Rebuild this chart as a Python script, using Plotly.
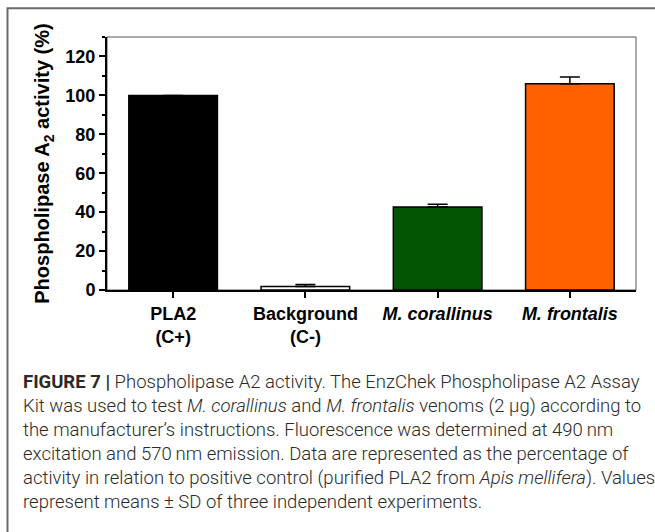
import plotly.graph_objects as go

categories = ["PLA2<br>(C+)", "Background<br>(C-)", "<i>M. corallinus</i>", "<i>M. frontalis</i>"]
activity = [100.0, 1.8, 42.7, 106.0]
sd = [0.0, 1.0, 1.3, 3.5]
bar_colors = ["#000000", "#ffffff", "#025402", "#ff6000"]
y_ticks = [0, 20, 40, 60, 80, 100, 120]

caption_lines = [
    "<b>FIGURE 7 |</b> Phospholipase A2 activity. The EnzChek Phospholipase A2 Assay",
    "Kit was used to test <i>M. corallinus</i> and <i>M. frontalis</i> venoms (2 \u00b5g) according to",
    "the manufacturer\u2019s instructions. Fluorescence was determined at 490\u2009nm",
    "excitation and 570\u2009nm emission. Data are represented as the percentage of",
    "activity in relation to positive control (purified PLA2 from <i>Apis mellifera</i>). Values",
    "represent means \u00b1 SD of three independent experiments.",
]

W, H = 655, 532
ML, MR, MT, MB = 107, 19, 37, 242
PW = W - ML - MR
PH = H - MT - MB

def px(x):
    return (x - ML) / PW

def py(y):
    return (H - MB - y) / PH

fig = go.Figure()
fig.add_trace(go.Bar(
    x=list(range(len(categories))), y=activity, width=0.67,
    marker=dict(color=bar_colors, line=dict(color="#000000", width=1.5)),
    error_y=dict(type="data", array=sd, arrayminus=[0] * len(sd), symmetric=False,
                 color="#000000", thickness=1.5, width=10),
    showlegend=False,
))

shapes = [
    dict(type="rect", xref="paper", yref="paper", x0=0, x1=1, y0=0, y1=1,
         line=dict(color="#555555", width=1), layer="below"),
    dict(type="rect", xref="paper", yref="paper", x0=px(7.5), x1=px(700), y0=py(8.3), y1=py(600),
         line=dict(color="#6a6a6a", width=2), layer="below"),
]

annotations = []
line_y = [382, 406, 430, 454, 478, 502]
for txt, yy in zip(caption_lines, line_y):
    annotations.append(dict(
        text=txt, xref="paper", yref="paper", x=px(21), y=py(yy),
        xanchor="left", yanchor="middle", showarrow=False,
        font=dict(family="Roboto", size=18.5, color="#2a2a2a", weight=300),
    ))

fig.update_layout(
    width=W, height=H,
    margin=dict(l=ML, r=MR, t=MT, b=MB, pad=0),
    paper_bgcolor="#ffffff", plot_bgcolor="#ffffff",
    font=dict(family="Arial, Liberation Sans", color="#000000"),
    shapes=shapes, annotations=annotations,
    xaxis=dict(
        range=[-0.5, 3.5], tickmode="array", tickvals=list(range(len(categories))),
        ticktext=[f"<b>{c}</b>" for c in categories],
        showline=True, linecolor="#000000", linewidth=2,
        ticks="outside", ticklen=6, tickwidth=1.5, tickcolor="#000000",
        tickfont=dict(size=18, family="Arial, Liberation Sans"),
        showgrid=False, zeroline=False,
    ),
    yaxis=dict(
        range=[0, 130], tickmode="array", tickvals=y_ticks,
        showline=True, linecolor="#000000", linewidth=2,
        ticks="outside", ticklen=6, tickwidth=1.5, tickcolor="#000000",
        minor=dict(ticks="outside", dtick=10, tick0=0, ticklen=3, tickwidth=1.5, tickcolor="#000000"),
        tickfont=dict(size=18, family="Arial, Liberation Sans", weight="bold"),
        title=dict(text="<b>Phospholipase A<sub>2</sub> activity (%)</b>",
                   font=dict(size=20, family="Arial, Liberation Sans"), standoff=10),
        showgrid=False, zeroline=False,
    ),
)

fig.write_html("out.html")
